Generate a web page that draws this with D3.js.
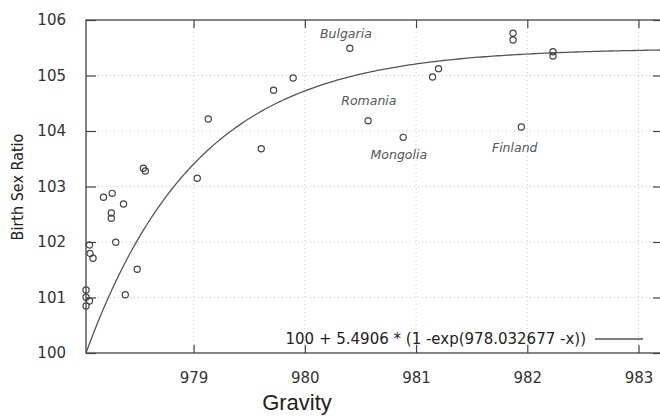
<!DOCTYPE html>
<head>
  <meta charset="utf-8">
  <title>Birth Sex Ratio vs Gravity</title>
  <script src="https://d3js.org/d3.v7.min.js"></script>
  <style>
    body { margin: 0; background: #fff; }
  </style>
</head>
<body>
  <div id="chart"></div>

  <script type="text/javascript">

    // Data points
    var gravity = [
      978.190, 978.268, 978.370, 978.260, 978.260, 978.300, 978.064, 978.069,
      978.096, 978.493, 978.033, 978.033, 978.064, 978.033, 978.386, 978.548,
      978.566, 979.033, 979.132, 979.608, 979.719, 979.895, 980.405, 980.569,
      980.884, 981.148, 981.202, 981.872, 981.872, 981.947, 982.231, 982.231
    ];
    var sexRatio = [
      102.805, 102.877, 102.685, 102.523, 102.427, 101.996, 101.946, 101.793,
      101.706, 101.510, 101.135, 101.004, 100.937, 100.847, 101.050, 103.328,
      103.279, 103.148, 104.216, 103.681, 104.733, 104.955, 105.490, 104.186,
      103.886, 104.973, 105.123, 105.760, 105.640, 104.072, 105.429, 105.351
    ];

    // Country annotations (position in data units)
    var labelNames = ['Bulgaria', 'Romania', 'Mongolia', 'Finland'];
    var labelX = [980.369, 980.576, 980.845, 981.887];
    var labelY = [105.748, 104.541, 103.568, 103.694];

    // Fitted curve: fitBase + fitAmp * (1 - exp(fitX0 - x))
    var fitBase = 100;
    var fitAmp = 5.4906;
    var fitX0 = 978.032677;
    var fitLabel = '100 + 5.4906 * (1 -exp(978.032677 -x))';

    // Axis ticks
    var xTicks = [979, 980, 981, 982, 983];
    var yTicks = [100, 101, 102, 103, 104, 105, 106];

    var width = 660;
    var height = 417;
    var margin = { top: 20, right: -3, bottom: 64, left: 86 };
    var w = width - margin.left - margin.right;
    var h = height - margin.top - margin.bottom;

    var xScale = d3.scaleLinear()
      .domain([fitX0, 983.22])
      .range([0, w]);
    var yScale = d3.scaleLinear()
      .domain([100, 106])
      .range([h, 0]);

    var svg = d3.select('#chart')
      .append('svg')
        .attr('width', width)
        .attr('height', height);

    var g = svg.append('g')
      .attr('transform', 'translate(' + margin.left + ',' + margin.top + ')');

    // dotted grid
    g.append('g')
      .selectAll('line')
      .data(xTicks)
      .enter().append('line')
        .attr('x1', function (d) { return xScale(d); })
        .attr('x2', function (d) { return xScale(d); })
        .attr('y1', 0)
        .attr('y2', h)
        .attr('stroke', '#c8c8c8')
        .attr('stroke-width', 1)
        .attr('stroke-dasharray', '1,3');
    g.append('g')
      .selectAll('line')
      .data(yTicks.slice(1, -1))
      .enter().append('line')
        .attr('x1', 0)
        .attr('x2', w)
        .attr('y1', function (d) { return yScale(d); })
        .attr('y2', function (d) { return yScale(d); })
        .attr('stroke', '#c8c8c8')
        .attr('stroke-width', 1)
        .attr('stroke-dasharray', '1,3');

    // axes with inward ticks, mirrored on top and right
    var axisFont = '"DejaVu Sans", sans-serif';
    var xAxis = g.append('g')
      .attr('transform', 'translate(0,' + h + ')')
      .call(d3.axisBottom(xScale).tickValues(xTicks).tickSize(-8).tickPadding(19).tickFormat(d3.format('d')));
    var yAxis = g.append('g')
      .call(d3.axisLeft(yScale).tickValues(yTicks).tickSize(-10).tickPadding(20).tickFormat(d3.format('d')));
    g.append('g')
      .call(d3.axisTop(xScale).tickValues(xTicks).tickSize(-8).tickFormat(''));
    g.append('g')
      .attr('transform', 'translate(' + w + ',0)')
      .call(d3.axisRight(yScale).tickValues(yTicks).tickSize(-10).tickFormat(''));

    g.selectAll('.domain').remove();
    g.selectAll('.tick line').attr('stroke', '#444').attr('stroke-width', 1.2);
    g.selectAll('.tick text')
      .attr('fill', '#333')
      .style('font-family', axisFont)
      .style('font-size', '15px');

    // frame
    g.append('rect')
      .attr('x', 0)
      .attr('y', 0)
      .attr('width', w)
      .attr('height', h)
      .attr('fill', 'none')
      .attr('stroke', '#444')
      .attr('stroke-width', 1.3);

    // fitted curve
    var curveX = d3.range(0, 201).map(function (i) {
      return fitX0 + i * (983.22 - fitX0) / 200;
    });
    var line = d3.line()
      .x(function (d) { return xScale(d); })
      .y(function (d) { return yScale(fitBase + fitAmp * (1 - Math.exp(fitX0 - d))); });
    g.append('path')
      .datum(curveX)
      .attr('fill', 'none')
      .attr('stroke', '#555')
      .attr('stroke-width', 1.3)
      .attr('d', line);

    // data points
    g.append('g')
      .selectAll('circle')
      .data(gravity)
      .enter().append('circle')
        .attr('cx', function (d) { return xScale(d); })
        .attr('cy', function (d, i) { return yScale(sexRatio[i]); })
        .attr('r', 3.1)
        .attr('fill', 'none')
        .attr('stroke', '#444')
        .attr('stroke-width', 1.2);

    // country labels
    g.append('g')
      .selectAll('text')
      .data(labelNames)
      .enter().append('text')
        .attr('x', function (d, i) { return xScale(labelX[i]); })
        .attr('y', function (d, i) { return yScale(labelY[i]); })
        .attr('dy', '0.35em')
        .attr('text-anchor', 'middle')
        .attr('fill', '#555')
        .style('font-family', axisFont)
        .style('font-style', 'italic')
        .style('font-size', '12.5px')
        .text(function (d) { return d; });

    // legend
    g.append('text')
      .attr('x', 500)
      .attr('y', 324)
      .attr('text-anchor', 'end')
      .attr('fill', '#222')
      .style('font-family', axisFont)
      .style('font-size', '15px')
      .text(fitLabel);
    g.append('line')
      .attr('x1', 509)
      .attr('x2', 557)
      .attr('y1', 319)
      .attr('y2', 319)
      .attr('stroke', '#555')
      .attr('stroke-width', 1.3);

    // axis titles
    svg.append('text')
      .attr('x', 297)
      .attr('y', 410)
      .attr('text-anchor', 'middle')
      .attr('fill', '#222')
      .style('font-family', '"Liberation Sans", Arial, sans-serif')
      .style('font-size', '22px')
      .text('Gravity');
    svg.append('text')
      .attr('transform', 'translate(23,187) rotate(-90)')
      .attr('text-anchor', 'middle')
      .attr('fill', '#222')
      .style('font-family', '"Liberation Sans Narrow", "DejaVu Sans Condensed", sans-serif')
      .style('font-size', '16px')
      .text('Birth Sex Ratio');
  </script>
</body>
